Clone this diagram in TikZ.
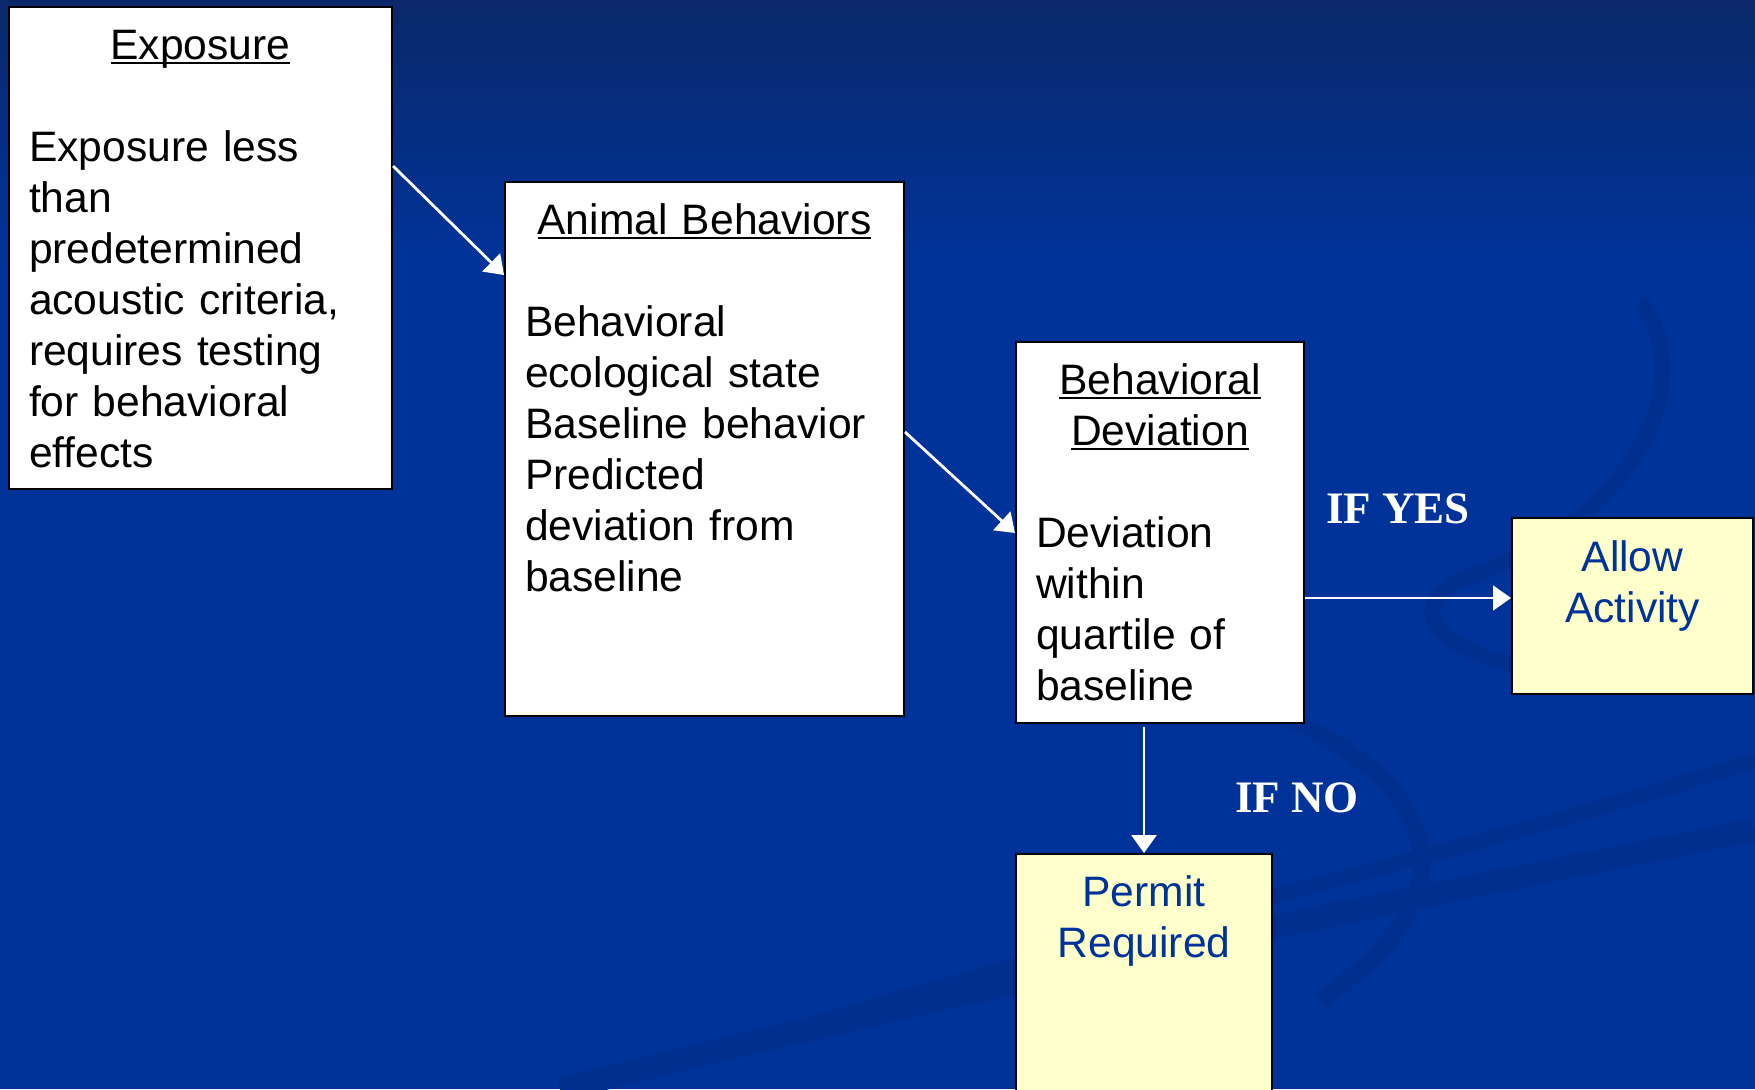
\documentclass[tikz,border=0pt]{standalone}
\usepackage{fontspec}
\setmainfont{Liberation Sans}
\newfontfamily\condfont{Liberation Serif}
\usetikzlibrary{arrows.meta}

\definecolor{bgtop}{RGB}{10,40,106}
\definecolor{bgmain}{RGB}{0,51,153}
\definecolor{bgband}{RGB}{0,47,144}
\definecolor{pale}{RGB}{255,255,204}
\definecolor{ink}{RGB}{0,51,153}

% underlined heading, rule close to the baseline
\newcommand{\ttl}[1]{\leavevmode\setbox0\hbox{#1}\rlap{\rule[-2.6pt]{\wd0}{1.1pt}}\box0}

\begin{document}
\begin{tikzpicture}[x=0.5pt,y=-0.5pt]
 \tikzstyle{box}=[draw=black,fill=white,line width=1pt,anchor=north west,inner xsep=10pt,inner ysep=0pt,
   align=left,font={\fontsize{21.3pt}{25.5pt}\selectfont},text height=26pt]
 \tikzstyle{answer}=[box,fill=pale,text=ink,align=center]
 \tikzstyle{flow}=[draw=white,line width=1.4pt,-{Triangle[length=9pt,width=12.5pt]}]
 \tikzstyle{cond}=[text=white,font={\condfont\bfseries\fontsize{22.5pt}{27pt}\selectfont},anchor=base]
 \useasboundingbox (0,0) rectangle (1755,1089);
 \clip (0,0) rectangle (1755,1089);
 % background
 \shade[top color=bgtop,bottom color=bgmain] (0,0) rectangle (1755,260);
 \fill[bgmain] (0,259) rectangle (1755,1089);
 \draw[bgband,line width=12pt] (560,1089) .. controls (1000,980) and (1400,900) .. (1755,830);
 \draw[bgband,line width=8pt] (700,1060) .. controls (1100,930) and (1450,860) .. (1755,760);
 \draw[bgband,line width=9pt] (1240,700) .. controls (1420,760) and (1500,880) .. (1320,1000);
 \draw[bgband,line width=8pt] (1640,300) .. controls (1700,380) and (1640,520) .. (1460,580)
   .. controls (1400,610) and (1440,660) .. (1560,672);

 \node[box,text width=171.5pt,text depth=215pt] at (8,6) (EXP)
  {{\centering\ttl{Exposure}\par}\vspace{25.5pt}%
   Exposure less\\than\\predetermined\\acoustic criteria,\\requires testing\\for behavioral\\effects};
 \node[box,text width=179.5pt,text depth=241pt] at (504,181) (ANB)
  {{\centering\ttl{Animal Behaviors}\par}\vspace{25.5pt}%
   Behavioral\\ecological state\\Baseline behavior\\Predicted\\deviation from\\baseline};
 \node[box,text width=124pt,text depth=164.5pt] at (1015,341) (DEV)
  {{\centering\ttl{Behavioral}\\\ttl{Deviation}\par}\vspace{25.5pt}%
   Deviation\\within\\quartile of\\baseline};
 \node[answer,text width=100.5pt,text height=26.5pt,text depth=61.5pt] at (1511,517) (ALW)
  {Allow\\Activity};
 \node[answer,text width=108pt,text depth=110pt] at (1015,853) (PRM)
  {Permit\\Required};

 \node[cond] at (1398,523) (YES) {IF YES};
 \node[cond] at (1297,812) (NO) {IF NO};

 \draw[flow] ([yshift=-80pt]EXP.north east) -- ([yshift=-47pt]ANB.north west);
 \draw[flow] ([yshift=-125.5pt]ANB.north east) -- ([yshift=-96pt]DEV.north west);
 \draw[flow,line width=0.9pt] ([yshift=-128.5pt]DEV.north east) -- ([yshift=-40.5pt]ALW.north west);
 \draw[flow,shorten <=1.5pt] (DEV.south -| PRM.north) -- (PRM.north);
\end{tikzpicture}
\end{document}
